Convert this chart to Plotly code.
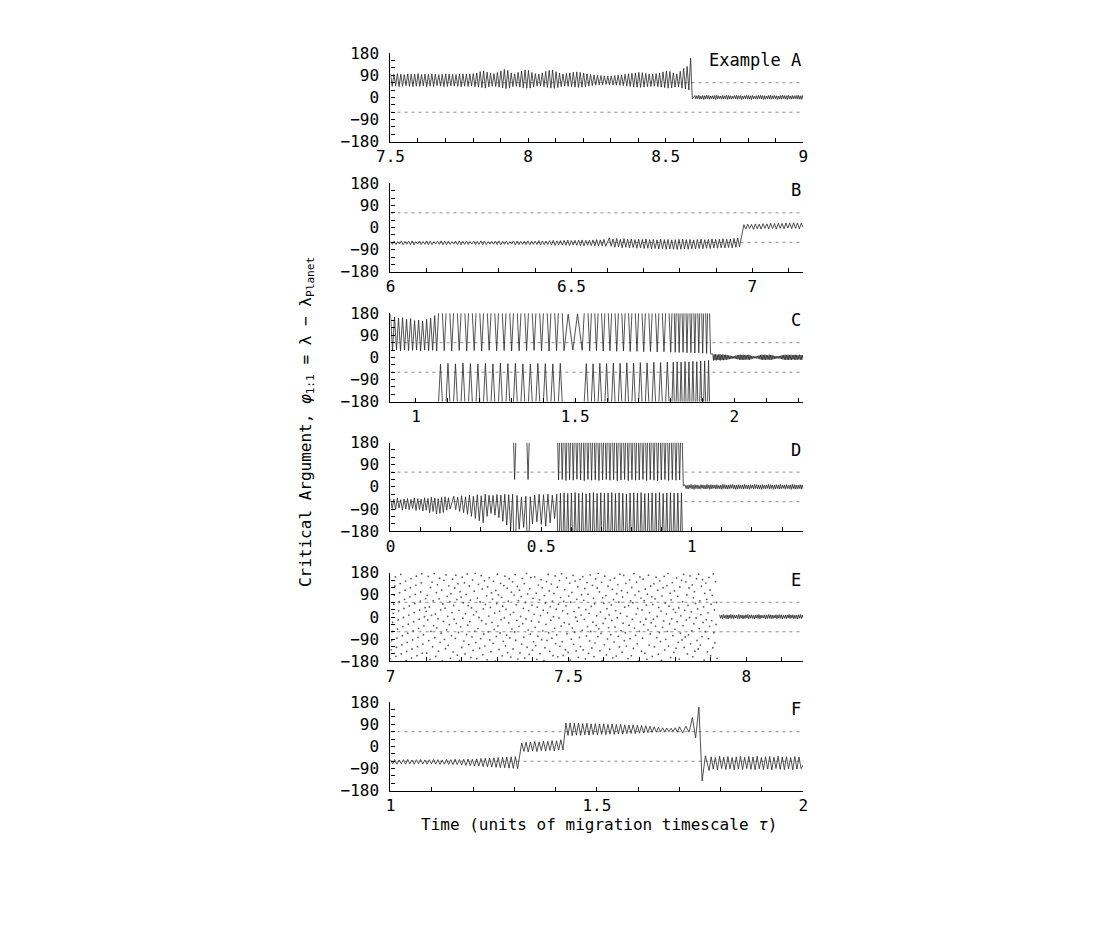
import numpy as np
import plotly.graph_objects as go

# ---------------------------------------------------------------------------
# values: critical argument (deg) vs time (units of tau)
# ---------------------------------------------------------------------------
panel_labels = ['Example A', 'B', 'C', 'D', 'E', 'F']
x_ranges = [[7.5, 9.0], [6.0, 7.141], [0.92, 2.216], [0.0, 1.37], [7.0, 8.16], [1.0, 2.0]]
x_ticks = [[7.5, 8, 8.5, 9], [6, 6.5, 7], [1, 1.5, 2], [0, 0.5, 1], [7, 7.5, 8], [1, 1.5, 2]]
x_ticktext = [['7.5', '8', '8.5', '9'], ['6', '6.5', '7'], ['1', '1.5', '2'],
              ['0', '0.5', '1'], ['7', '7.5', '8'], ['1', '1.5', '2']]
y_ticks = [-180, -90, 0, 90, 180]
y_ticktext = ['\u2212180', '\u221290', '0', '90', '180']
resonance_edges = [-60, 60]

# --- A : tadpole libration, then capture near 0
a_osc_t = [7.5, 8.597]
a_peak = [96, 94, 97, 95, 93, 96, 94, 95, 97, 93, 95, 94, 96, 95, 93, 94, 96, 95, 94, 93,
          95, 96, 94, 95, 97, 100, 105, 108, 103, 98, 97, 102, 108, 114, 110, 100, 96, 102,
          108, 112, 110, 102, 97, 95, 100, 106, 110, 112, 105, 99, 96, 98, 100, 103, 104, 102,
          99, 96, 94, 92, 90, 89, 88, 87, 88, 89, 90, 92, 94, 96, 98, 100, 102, 101, 98, 96,
          95, 97, 100, 104, 108, 106, 100, 96, 106, 118, 126, 160]
a_trough = [45, 47, 44, 46, 48, 45, 44, 46, 45, 47, 44, 46, 45, 48, 46, 44, 45, 47, 46, 45,
            44, 46, 45, 47, 44, 42, 40, 38, 43, 46, 45, 42, 39, 36, 38, 44, 46, 42, 39, 37,
            38, 43, 46, 47, 44, 41, 38, 37, 40, 44, 46, 45, 44, 42, 41, 42, 44, 46, 48, 50,
            51, 52, 53, 52, 51, 50, 49, 48, 46, 45, 43, 42, 41, 42, 44, 45, 46, 44, 42, 40,
            38, 39, 42, 43, 38, 35, 30, -6]
a_band_t = [8.606, 9.0]
a_band_hi = [8, 7, 9, 6, 8, 7, 9, 8, 6, 7, 8, 9, 7, 6, 8, 7, 9, 8, 7, 6, 8, 9, 7, 8, 6, 7, 9, 8,
             7, 8, 6, 7, 8, 9, 8, 7, 6, 8, 9, 7, 8, 7, 6, 8, 9, 8, 7, 9, 6, 8, 7, 8, 9, 7, 8]
a_band_lo = [-6, -5, -7, -6, -8, -5, -6, -7, -5, -6, -8, -6, -5, -7, -6, -5, -8, -6, -7, -5,
             -6, -7, -5, -8, -6, -5, -7, -6, -8, -5, -6, -7, -5, -6, -8, -7, -5, -6, -7, -6,
             -5, -8, -6, -7, -5, -6, -8, -5, -7, -6, -5, -6, -7, -8, -6]

# --- B
b_t1 = [6.0, 6.595]
b_p1 = [-56, -55, -57, -54, -56, -55, -54, -57, -55, -56, -54, -55, -57, -56, -54, -55, -56, -57, -55, -54,
        -56, -55, -57, -55, -56, -54, -55, -57, -56, -55, -54, -56, -55, -57, -54, -55, -56, -55, -54, -56,
        -55, -53, -54, -55, -53, -52, -54, -53, -52, -51, -53, -52, -51, -50, -52, -51, -50, -49, -50, -48]
b_q1 = [-68, -69, -67, -70, -68, -69, -70, -67, -69, -68, -70, -69, -67, -68, -70, -69, -68, -67, -69, -70,
        -68, -69, -67, -69, -68, -70, -69, -67, -68, -69, -70, -68, -69, -67, -70, -69, -68, -69, -70, -68,
        -69, -71, -70, -69, -71, -72, -70, -71, -72, -73, -71, -72, -73, -74, -72, -73, -74, -75, -74, -76]
b_t2 = [6.605, 6.965]
b_p2 = [-42, -46, -44, -48, -45, -47, -46, -49, -47, -48, -46, -49, -48, -50, -47, -49, -48, -50,
        -49, -48, -47, -49, -48, -50, -48, -47, -49, -48, -46, -48, -47, -45, -47, -46, -44, -42]
b_q2 = [-76, -80, -78, -82, -80, -83, -81, -84, -83, -85, -84, -86, -85, -87, -86, -88, -87, -88,
        -89, -88, -87, -88, -86, -87, -85, -86, -84, -85, -83, -84, -82, -83, -81, -82, -80, -78]
b_t3 = [6.977, 7.141]
b_p3 = [12, 14, 13, 15, 14, 16, 15, 17, 16, 18, 17, 19, 18, 20, 19, 18]
b_q3 = [-6, -4, -7, -5, -6, -3, -5, -4, -6, -3, -5, -2, -4, -3, -5, 0]

# --- C : horseshoe (values above 180 wrap to negative angles)
c_t1 = [0.92, 1.065]
c_peak1 = [178, 165, 160, 162, 155, 158, 150, 152, 148, 155, 160, 170]
c_trough1 = [28, 30, 27, 30, 28, 29, 30, 27, 30, 28, 29, 27]
c_ta = [1.077, 1.465]
c_lam_a = [332, 336, 334, 337, 335, 333, 336, 334, 337, 335, 336, 334, 333, 336, 335, 334, 336]
c_v_a = [28, 26, 29, 27, 28, 26, 29, 27, 28, 26, 27, 28, 29, 27, 26, 28, 27]
c_tgap = [1.478, 1.522]
c_gap = [176, 30, 177, 29]
c_tc1 = [1.535, 1.80]
c_lam_c1 = [335, 334, 336, 335, 337, 336, 338, 337, 339, 338, 340, 339, 341]
c_v_c1 = [27, 28, 26, 27, 25, 26, 24, 25, 23, 24, 22, 23, 21]
c_tc2 = [1.808, 1.925]
c_lam_c2 = [341, 342, 341, 343, 342, 344, 343, 345, 346, 348]
c_v_c2 = [21, 20, 21, 19, 20, 18, 19, 17, 16, 14]
c_band_t = [1.932, 2.216]
c_band_hi = [14, 12, 13, 11, 12, 13, 11, 12, 10, 11, 9, 8, 7, 6, 5, 6, 7, 9, 10, 11, 10, 11, 10, 9,
             10, 11, 8, 6, 5, 4, 5, 6, 8, 10, 11, 10, 11, 10, 9, 11, 10, 9, 7, 6, 5, 5, 6, 7,
             9, 10, 11, 10, 11, 10, 11, 9, 10, 11, 10, 9, 11, 10, 9]
c_band_lo = [-12, -11, -12, -10, -11, -12, -10, -11, -9, -10, -8, -7, -6, -5, -4, -5, -6, -8, -9, -10,
             -9, -10, -9, -8, -9, -10, -7, -5, -4, -3, -4, -5, -7, -9, -10, -9, -10, -9, -8, -10,
             -9, -8, -6, -5, -4, -4, -5, -6, -8, -9, -10, -9, -10, -9, -10, -8, -9, -10, -9, -8,
             -10, -9, -8]

# --- D
d_t1 = [0.0, 0.198]
d_p1 = [-48, -50, -46, -52, -49, -47, -51, -45, -48, -50, -44, -47, -42, -45, -48, -43, -40, -44]
d_q1 = [-88, -92, -86, -95, -90, -93, -88, -96, -92, -98, -95, -105, -100, -110, -108, -104, -95, -90]
d_t2 = [0.21, 0.412]
d_p2 = [-38, -42, -36, -40, -34, -38, -32, -36, -30, -34, -35, -31, -33, -30, -32, -30]
d_q2 = [-92, -100, -105, -112, -120, -128, -138, -146, -120, -108, -115, -125, -140, -155, -170, -330]
d_t3 = [0.42, 0.552]
d_mid = [-35, -172, -42, -165, -38, -330, -40, -150, -33, -142, -30, -152, -32, -160, -30, -146,
         -34, -128, -30]
d_t4 = [0.558, 0.972]
d_v4 = [-332, -330, -334, -331, -333, -329, -332, -335, -330, -333, -331, -334, -332, -330, -333,
        -331, -335, -332, -330, -334, -331, -333, -332, -330, -334, -331, -333, -335, -332, -330,
        -334, -331, -333, -332, -356]
d_l4 = [-26, -24, -27, -25, -23, -26, -24, -28, -25, -23, -27, -24, -26, -25, -23, -27, -24, -26,
        -28, -25, -24, -26, -23, -27, -25, -24, -26, -23, -27, -25, -24, -26, -25, -24]
d_band_t = [0.978, 1.37]
d_band_hi = [9, 7, 8, 10, 7, 9, 8, 6, 9, 8, 7, 10, 8, 9, 7, 8, 9, 6, 8, 10, 9, 7, 8, 9, 10, 7, 8, 9, 7, 8,
             10, 8, 7, 9, 8, 10, 9, 7, 8, 9, 7, 8, 10, 9, 8, 7, 9, 8, 10, 7, 8, 9, 7, 8, 10, 9, 8, 7, 9, 8]
d_band_lo = [-7, -9, -6, -8, -10, -7, -8, -9, -6, -8, -9, -7, -10, -8, -6, -9, -7, -8, -10, -7,
             -8, -9, -7, -6, -8, -10, -9, -7, -8, -9, -7, -8, -10, -6, -9, -7, -8, -9, -10, -7,
             -8, -6, -9, -7, -10, -8, -7, -9, -8, -6, -9, -7, -8, -10, -7, -9, -8, -7, -9, -8]

# --- E : circulating (sampled output shown as dots), then capture
e_dots_t = [7.0, 7.918]
e_phi = [
    -170, -133, -96, -59, -22, 15, 52, 89, 126, 163, -160, -123, -86, -49, -12, 25, 62, 99, 136, 173,
    -150, -113, -76, -39, -2, 35, 72, 109, 146, -177, -140, -103, -66, -29, 8, 45, 82, 119, 156,
    -167, -130, -93, -56, -19, 18, 55, 92, 129, 166, -157, -120, -83, -46, -9, 28, 65, 102, 139, 176,
    -147, -110, -73, -36, 1, 38, 75,
    23, -147, 88, -12, 165, -96, 41, -173, 120, -58, 7, 142, -121, 66, -35, 177, -84, 12, -160, 99,
    -44, 131, -7, -139, 74, 158, -103, 29, -66, 110, -178, 53, -18, 149, -91, 36, -129, 171, -52, 84,
    3, -115, 127, -31, 62, -168, 95, -76, 18, 154, -142, 47, -9, 118, -87, 170, -26, 71, -155, 135,
    -63, 27, -176, 103, -40, 81, -124, 162, -5, 58, -98, 139, -150, 14, 92, -71, 175, -33, 46, -112,
    126, -19, 69, -165, 37, -81, 151, -136, 9, 105, -57, 179, -104, 21, -169, 77, -47, 133, -2, -127,
    61, -88, 168, -15, 114, -153, 33, -69, 147, -118, 51, -28, 86, -174, 122, -60, 4, 160, -93, 39,
    -141, 98, -22, 73, -107, 145, -50, 16, -179, 108, -79, 55, 174, -36, 90, -132, 24, -65, 137, -11,
    80, -158, 44, -99, 128, -3, 166, -117, 31, -74, 117, -145, 64, -24, 156, -85, 10, -163, 101, -49,
    143, -130, 19, 89, -61, 172, -94, 50, -14, 124, -171, 67, -38, 109, -146, 2, 83, -110, 157, -27,
    35, -82, 136, -167, 59, -8, 178, -123, 94, -53, 26, -152, 115, -70, 161, -16, 48, -135, 76, -101,
    11, 163, -42, -116, 97, -172, 40, -78, 130, -20, 70, -149, 6, 152, -92, 119, -56, 28, -177, 87,
    -125, 57, -30, 144, -95, 17, 173, -64, 106, -140, 42, -13, 134, -86, 65, -157, 1, 96, -46, 167,
    -108, 32, -73, 121, -162, 52, -4, 148, -119, 79, -37, 176, -100, 25, -156, 63, -23, 111, -133, 45,
    159, -68, 13, -144, 85, -29, 138, -175, 60, -90, 100, -45, 169, -111, 22, -62, 146, -1, -138, 72,
    -17, 123, -164, 38, -83, 153, -120, 8, 91, -54, 164, -134, 68, -10, 116, -170, 30, -77, 140, -39,
    93, -148, 15, -97, 171, -59, 43, -126, 129, -21, 76, -161, 54, -106, 155, -34, 5, 118, -80, 178,
    -48, 102, -137, 20, -67, 141, -178, 78, -26, 56, -113, 166, -6, 87, -154, 34, -89, 125, -43, 9,
    -131, 150, -72, 49, -14, 112, -166, 71, -102, 158, -41, 26, -159, 95, -3, 132, -79, 60, -122, 174,
    15, -55, 107, -143, 81, -25, 169, -96, 40, -64, 137, -118, 3, 99, -169, 46, -33, 151, -88, 66,
    -157, 120, -10, 58, -128, 176, -45, 89, -75, 12, 142, -109, 35, -179, 104, -58, 163, -20, 77, -139,
    29, -86, 154, -31, 67, -147, 113, -8, 48, -172, 93, -52, 170, -114, 18, -69, 126, -24, 82, -160,
    51, -9, 135, -121, 74, -37, 162, -84, 2, 109, -151, 39, -63, 147, -100, 24, -176, 85, -42, 119,
    -16, 165, -134, 57, -91, 13, 128, -58, 178, -118, 44, -28, 97, -165, 70, -7, 140, -76, 31, -144,
    106, -50, 19, -127, 159, -19, 84, -103, 37, -171, 122, -66, 5, 149, -93, 62, -35, 173, -124, 27,
    -81, 143, -12, 90, -150, 47, -73, 118, -2, 167, -109, 21, -56, 131, -162, 78, -27, 103, -139, 55,
    -4, 156, -95, 33, -130, 174, -47, 66, -114, 10, 125, -80, 152, -22, 41, -175, 96, -60, 138, -11,
    72, -142, 17, -88, 161, -38, 110, -158, 52, -15, 88, -125, 175, -64, 29, -105, 144, -30, 59, -168]
e_band_t = [7.925, 8.16]
e_band_hi = [9, 8, 10, 7, 9, 8, 10, 9, 7, 8, 10, 9, 8, 7, 9, 10, 8, 9, 7, 8, 9, 10, 8, 7, 9, 8, 10,
             9, 8, 7, 9, 8, 10, 9, 7, 8, 9, 10, 8, 9, 7, 8, 9, 10, 8]
e_band_lo = [-5, -7, -4, -6, -8, -5, -6, -7, -4, -6, -7, -5, -8, -6, -4, -7, -5, -6, -8, -5, -6, -7,
             -4, -5, -8, -6, -5, -7, -6, -4, -7, -5, -6, -8, -5, -7, -4, -6, -5, -7, -6, -8, -5, -6, -4]

# --- F
f_t1 = [1.0, 1.308]
f_p1 = [-54, -53, -55, -54, -53, -55, -54, -53, -55, -54, -53, -54, -55, -53, -54, -52, -53, -52, -51, -52,
        -50, -49, -48, -47, -46, -45, -44, -43, -42, -41]
f_q1 = [-71, -72, -70, -72, -71, -72, -70, -71, -72, -71, -72, -73, -72, -73, -74, -74, -76, -77, -78, -80,
        -80, -82, -83, -84, -85, -86, -87, -88, -89, -90]
f_t2 = [1.318, 1.418]
f_p2 = [14, 17, 18, 20, 19, 22, 21, 24, 23, 27]
f_q2 = [-20, -22, -18, -21, -17, -19, -16, -18, -15, -14]
f_t3 = [1.425, 1.695]
f_p3 = [95, 96, 94, 95, 93, 94, 92, 93, 91, 92, 90, 91, 89, 90, 88, 87, 88, 86, 85, 84,
        82, 80, 78, 76, 75, 74, 76]
f_q3 = [45, 44, 46, 45, 47, 46, 48, 47, 49, 48, 50, 49, 51, 50, 52, 53, 52, 54, 55, 56,
        57, 58, 59, 60, 60, 61, 58]
f_t4 = [1.700, 1.763]
f_kick = [80, 55, 82, 58, 118, 35, 160, -140, -38]
f_t5 = [1.772, 2.0]
f_q5 = [-98, -92, -95, -90, -94, -91, -95, -92, -94, -90, -93, -95, -91, -94, -92, -95, -90, -93,
        -94, -91, -95, -92, -90]
f_p5 = [-42, -45, -40, -44, -41, -45, -42, -40, -44, -41, -43, -40, -45, -42, -41, -44, -40, -43,
        -42, -45, -41, -43, -75]


def alternate(first, second):
    out = []
    for i in range(max(len(first), len(second))):
        if i < len(first):
            out.append(first[i])
        if i < len(second):
            out.append(second[i])
    return out


def seg(trange, values):
    return list(np.linspace(trange[0], trange[1], len(values))), list(values)


def join(*segs):
    t, v = [], []
    for st, sv in segs:
        t += st
        v += sv
    return t, v


def wrapped(x):
    return ((x + 180) % 360) - 180


def wrap_phase(t, v):
    # break the line where the angle leaves through +-180 and re-enters on the other side
    ot, ov = [t[0]], [wrapped(v[0])]
    for i in range(1, len(v)):
        a, b = v[i - 1], v[i]
        if b != a:
            lo, hi = min(a, b), max(a, b)
            ks = range(int(np.ceil((lo - 180) / 360)), int(np.floor((hi - 180) / 360)) + 1)
            cs = [180 + 360 * k for k in ks if lo < 180 + 360 * k < hi]
            if b < a:
                cs = cs[::-1]
            for c in cs:
                tc = t[i - 1] + (c - a) / (b - a) * (t[i] - t[i - 1])
                ot += [tc, None, tc]
                ov += [180, None, -180] if b > a else [-180, None, 180]
        ot.append(t[i])
        ov.append(wrapped(v[i]))
    return ot, ov


series = {}
series[0] = join(seg(a_osc_t, alternate(a_peak, a_trough)),
                 seg(a_band_t, alternate(a_band_hi, a_band_lo)))
series[1] = join(seg(b_t1, alternate(b_p1, b_q1)), seg(b_t2, alternate(b_p2, b_q2)),
                 seg(b_t3, alternate(b_p3, b_q3)))
series[2] = wrap_phase(*join(seg(c_t1, alternate(c_peak1, c_trough1)),
                             seg(c_ta, alternate(c_lam_a, c_v_a)),
                             seg(c_tgap, c_gap),
                             seg(c_tc1, alternate(c_lam_c1, c_v_c1)),
                             seg(c_tc2, alternate(c_lam_c2, c_v_c2)),
                             seg(c_band_t, alternate(c_band_hi, c_band_lo))))
series[3] = join(wrap_phase(*join(seg(d_t1, alternate(d_p1, d_q1)),
                                  seg(d_t2, alternate(d_p2, d_q2)),
                                  seg(d_t3, d_mid),
                                  seg(d_t4, alternate(d_v4, d_l4)))),
                 seg(d_band_t, alternate(d_band_hi, d_band_lo)))
series[4] = seg(e_band_t, alternate(e_band_hi, e_band_lo))
series[5] = join(seg(f_t1, alternate(f_p1, f_q1)), seg(f_t2, alternate(f_p2, f_q2)),
                 seg(f_t3, alternate(f_p3, f_q3)), seg(f_t4, f_kick),
                 seg(f_t5, alternate(f_q5, f_p5)))

# ---------------------------------------------------------------------------
# the page keeps the browser's 8px body margin; the figure is kept short enough
# that the page never scrolls. Pixel positions are measured on the window.
PAGE = 8
W, H = 1094, 880
x_left, x_right = 383 - PAGE, 803 - PAGE
panel_top = [45 - PAGE, 178 - PAGE, 310.7 - PAGE, 443 - PAGE, 576 - PAGE, 708.3 - PAGE]
panel_h = 90.5
ink = '#262626'
font = 'DejaVu Sans Mono'

fig = go.Figure()
layout = dict(width=W, height=H, margin=dict(l=0, r=0, t=0, b=0), autosize=False,
              paper_bgcolor='white', plot_bgcolor='white', showlegend=False,
              font=dict(family=font, size=16, color='black'))
shapes, annotations = [], []

for i in range(6):
    n = '' if i == 0 else str(i + 1)
    xa, ya = 'x' + n, 'y' + n
    top = panel_top[i]
    ydom = [1 - (top + panel_h) / H, 1 - top / H]
    layout['xaxis' + n] = dict(
        domain=[x_left / W, x_right / W], range=x_ranges[i], anchor=ya,
        showline=True, linecolor='black', linewidth=1.3, mirror=False,
        showgrid=False, zeroline=False, ticks='inside', ticklen=4, tickwidth=1,
        tickcolor='black', tickmode='array', tickvals=x_ticks[i], ticktext=x_ticktext[i],
        minor=dict(ticks='inside', ticklen=4, tickwidth=1, tickcolor='black', dtick=0.1, tick0=0),
        tickfont=dict(family=font, size=16, color='black'), fixedrange=True)
    layout['yaxis' + n] = dict(
        domain=ydom, range=[-180, 180], anchor=xa,
        showline=True, linecolor='black', linewidth=1.3, mirror=False,
        showgrid=False, zeroline=False, ticks='inside', ticklen=4, tickwidth=1,
        tickcolor='black', tickmode='array', tickvals=y_ticks, ticktext=y_ticktext,
        minor=dict(ticks='inside', ticklen=4, tickwidth=1, tickcolor='black', dtick=30, tick0=0),
        ticklabelstandoff=7,
        tickfont=dict(family=font, size=16, color='black'), fixedrange=True)

    for yv in resonance_edges:
        shapes.append(dict(type='line', xref=xa + ' domain', yref=ya, x0=0, x1=1, y0=yv, y1=yv,
                           line=dict(color='#8c8c8c', width=1, dash='3px,4px'), layer='below'))

    annotations.append(dict(text=panel_labels[i], xref=xa + ' domain', yref=ya + ' domain',
                            x=1, y=1, xanchor='right', yanchor='top', yshift=5, showarrow=False,
                            font=dict(family=font, size=17, color='black')))

    t, v = series[i]
    fig.add_trace(go.Scatter(x=t, y=v, mode='lines', line=dict(color=ink, width=0.8),
                             xaxis=xa, yaxis=ya, hoverinfo='skip', connectgaps=False))

# dots of the circulating phase in panel E
fig.add_trace(go.Scatter(x=list(np.linspace(e_dots_t[0], e_dots_t[1], len(e_phi))), y=e_phi,
                         mode='markers', marker=dict(color='#5a5a5a', size=1.8, line=dict(width=0)),
                         xaxis='x5', yaxis='y5', hoverinfo='skip'))

annotations.append(dict(text='Critical Argument, <i>\u03c6</i><sub>1:1</sub> = \u03bb \u2212 \u03bb<sub>Planet</sub>',
                        xref='paper', yref='paper', x=(297 - PAGE) / W, y=1 - (422 - PAGE) / H,
                        textangle=-90, xanchor='center', yanchor='middle', showarrow=False,
                        font=dict(family=font, size=16, color='black')))
annotations.append(dict(text='Time (units of migration timescale <i>\u03c4</i>)',
                        xref='paper', yref='paper', x=(595 - PAGE) / W, y=1 - (833 - PAGE) / H,
                        xanchor='center', yanchor='middle', showarrow=False,
                        font=dict(family=font, size=16, color='black')))

layout['shapes'] = shapes
layout['annotations'] = annotations
fig.update_layout(**layout)

fig.write_html("out.html", config={'displayModeBar': False})
